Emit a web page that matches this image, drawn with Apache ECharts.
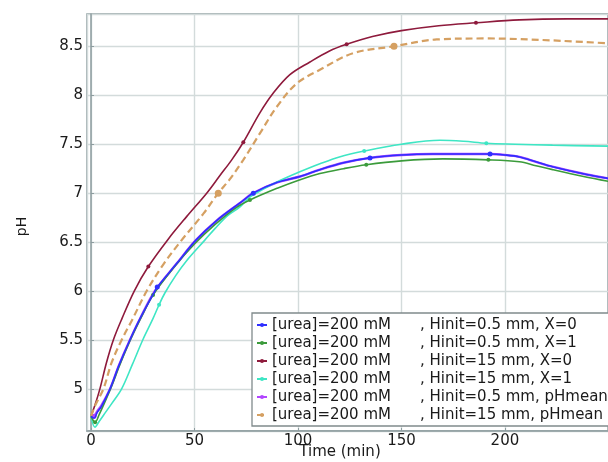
<!DOCTYPE html>
<html>
<head>
<meta charset="utf-8">
<script src="https://cdn.jsdelivr.net/npm/echarts@6/dist/echarts.min.js"></script>
<style>
html,body{margin:0;padding:0;background:#fff;}
#c{width:608px;height:462px;}
</style>
</head>
<body>
<div id="c"></div>
<script>
// ---- data ----
var seriesNames = [
  '[urea]=200 mM , Hinit=0.5 mm, X=0',
  '[urea]=200 mM , Hinit=0.5 mm, X=1',
  '[urea]=200 mM , Hinit=15 mm, X=0',
  '[urea]=200 mM , Hinit=15 mm, X=1',
  '[urea]=200 mM , Hinit=0.5 mm, pHmean',
  '[urea]=200 mM , Hinit=15 mm, pHmean'
];

var tBlue  = [0, 1.5, 3, 5, 9.2, 13.5, 18.8, 24, 30.9, 32, 41.4, 50.7, 60.7, 72, 78.4, 90, 101, 110.6, 122, 134.8, 150, 165, 180, 192.8, 200, 207, 215, 223, 239.5, 250];
var pHBlue = [4.72, 4.70, 4.76, 4.82, 5.0, 5.24, 5.5, 5.73, 6.0, 6.04, 6.28, 6.52, 6.72, 6.90, 7.0, 7.11, 7.17, 7.24, 7.31, 7.36, 7.39, 7.40, 7.40, 7.40, 7.39, 7.37, 7.32, 7.27, 7.19, 7.15];
var mBlue  = [32, 78.4, 134.8, 192.8];

var tGreen  = [0, 2, 4, 7, 10, 14, 19, 24, 30, 40, 50, 60, 70, 76.8, 90, 100, 110.6, 122, 133, 150, 170, 192, 207, 215, 223, 238, 250];
var pHGreen = [4.72, 4.66, 4.74, 4.88, 5.03, 5.25, 5.5, 5.72, 5.96, 6.24, 6.48, 6.68, 6.85, 6.93, 7.05, 7.13, 7.20, 7.25, 7.29, 7.33, 7.35, 7.34, 7.32, 7.28, 7.24, 7.17, 7.12];
var mGreen  = [2, 30, 76.8, 133, 192];

var tRed  = [0, 2, 4.3, 7.5, 10.8, 15, 20.9, 27.7, 37.3, 46.2, 55.9, 62.3, 68, 73.6, 81.6, 88, 96.1, 105.8, 115, 123.5, 136, 150, 168, 186, 207, 230, 250];
var pHRed = [4.72, 4.84, 5.0, 5.27, 5.5, 5.72, 6.0, 6.25, 6.53, 6.76, 7.0, 7.18, 7.34, 7.52, 7.82, 8.02, 8.21, 8.34, 8.45, 8.52, 8.60, 8.66, 8.71, 8.74, 8.77, 8.78, 8.78];
var mRed  = [27.7, 73.6, 123.5, 186];

var tCyan  = [0, 1.9, 4, 7, 10, 14.8, 20, 25, 30, 32.9, 35.7, 41, 46.2, 55, 60, 66, 72, 76.8, 84, 91.3, 100, 110.6, 120, 132, 150, 168.6, 180, 191, 205, 223, 250];
var pHCyan = [4.72, 4.61, 4.67, 4.76, 4.85, 5.0, 5.25, 5.5, 5.72, 5.86, 5.98, 6.16, 6.31, 6.52, 6.64, 6.77, 6.86, 6.96, 7.05, 7.13, 7.21, 7.30, 7.37, 7.43, 7.50, 7.54, 7.53, 7.51, 7.50, 7.49, 7.48];
var mCyan  = [32.9, 132, 191];

var tPurple  = [0, 1.5, 3, 5, 9.2, 13.5, 18.8, 24, 30.9, 41.4, 50.7, 60.7, 72, 78.4, 90, 101, 110.6, 122, 134.8, 150, 165, 180, 192.8, 200, 207, 215, 223, 239.5, 250];
var pHPurple = [4.71, 4.72, 4.77, 4.83, 5.0, 5.24, 5.5, 5.73, 6.0, 6.28, 6.52, 6.72, 6.90, 7.0, 7.11, 7.17, 7.24, 7.31, 7.36, 7.39, 7.40, 7.40, 7.40, 7.39, 7.37, 7.32, 7.27, 7.19, 7.15];
var mPurple  = [1.5];

var tTan  = [0, 2, 6, 10, 14.8, 20, 26.9, 34.9, 43.8, 54.3, 61.5, 67, 73.6, 81.6, 89.7, 99.4, 110.6, 126.7, 146.4, 167, 191, 223, 250];
var pHTan = [4.72, 4.83, 5.0, 5.27, 5.5, 5.71, 6.0, 6.27, 6.52, 6.79, 7.0, 7.14, 7.34, 7.61, 7.88, 8.12, 8.26, 8.43, 8.50, 8.57, 8.58, 8.56, 8.53];
var mTan  = [61.5, 146.4];

var colors = ['#2f2fff', '#3b9b3b', '#8e1a3c', '#3ee6c4', '#b245ff', '#d5a062'];

// ---- build ----
function build(t, p, markers, size) {
  return t.map(function (x, i) {
    if (markers.indexOf(x) >= 0) return { value: [x, p[i]], symbolSize: size };
    return { value: [x, p[i]], symbolSize: 0 };
  });
}
var FONT = 'DejaVu Sans';
var sets = [
  [tBlue, pHBlue, mBlue, 5],
  [tGreen, pHGreen, mGreen, 4],
  [tRed, pHRed, mRed, 4],
  [tCyan, pHCyan, mCyan, 4],
  [tPurple, pHPurple, mPurple, 5],
  [tTan, pHTan, mTan, 7]
];
var zs = [5, 4, 3, 3, 2, 3];
var series = sets.map(function (s, i) {
  return {
    name: seriesNames[i],
    type: 'line',
    smooth: 0.35,
    symbol: 'circle',
    showSymbol: true,
    z: zs[i],
    data: build(s[0], s[1], s[2], s[3]),
    itemStyle: { color: colors[i] },
    lineStyle: i === 5 ? { color: colors[i], width: 2.2, type: [7, 4] } : { color: colors[i], width: i === 4 ? 2.4 : 1.6 },
    emphasis: { disabled: true }
  };
});

var chart = echarts.init(document.getElementById('c'), null, { renderer: 'canvas' });
chart.setOption({
  animation: false,
  backgroundColor: '#fff',
  grid: { left: 87, top: 14, right: 0, bottom: 31, show: true, borderColor: '#8d9c9f', borderWidth: 1.5, containLabel: false, outerBoundsMode: 'none' },
  xAxis: {
    type: 'value', min: -1.93, max: 249.8, splitNumber: 5,
    name: 'Time (min)', nameLocation: 'middle', nameGap: 14, nameMoveOverlap: false,
    nameTextStyle: { fontFamily: FONT, fontSize: 15, color: '#1a1a1a', padding: [0, 15, 0, 0] },
    axisLine: { show: true, lineStyle: { color: '#8d9c9f', width: 1.5 } },
    axisTick: { show: true, inside: true, length: 3, lineStyle: { color: '#8d9c9f' } },
    axisLabel: { fontFamily: FONT, fontSize: 15, color: '#1a1a1a', margin: 3, showMinLabel: false, showMaxLabel: false },
    splitLine: { show: true, lineStyle: { color: '#d3dbdb', width: 1.4 } }
  },
  yAxis: {
    type: 'value', min: 4.57, max: 8.83, splitNumber: 8,
    name: 'pH', nameLocation: 'middle', nameGap: 58, nameRotate: 90, nameMoveOverlap: false,
    nameTextStyle: { fontFamily: FONT, fontSize: 14, color: '#1a1a1a', padding: [0, 8, 0, 0] },
    axisLine: { show: true, lineStyle: { color: '#8d9c9f', width: 1.5 } },
    axisTick: { show: true, inside: true, length: 3, lineStyle: { color: '#8d9c9f' } },
    axisLabel: { fontFamily: FONT, fontSize: 15, color: '#1a1a1a', margin: 4, showMinLabel: false, showMaxLabel: false },
    splitLine: { show: true, lineStyle: { color: '#d3dbdb', width: 1.4 } }
  },
  legend: {
    orient: 'vertical', left: 252, top: 313,
    padding: [3, 120, 2, 4],
    itemGap: 0, itemWidth: 10, itemHeight: 5,
    backgroundColor: '#fff', borderColor: '#808a8c', borderWidth: 1.3, borderRadius: 0,
    selectedMode: false,
    textStyle: {
      fontFamily: FONT, fontSize: 15, color: '#1a1a1a', lineHeight: 18,
      rich: {
        a: { fontFamily: FONT, fontSize: 15, color: '#1a1a1a', width: 148, lineHeight: 18 },
        b: { fontFamily: FONT, fontSize: 15, color: '#1a1a1a', lineHeight: 18 }
      }
    },
    formatter: function (name) {
      var parts = name.split(' , ');
      return '{a|' + parts[0] + '}{b|, ' + parts[1] + '}';
    },
    data: seriesNames.map(function (n, i) { return { name: n, itemStyle: { color: colors[i] } }; })
  },
  series: series
});
</script>
</body>
</html>
